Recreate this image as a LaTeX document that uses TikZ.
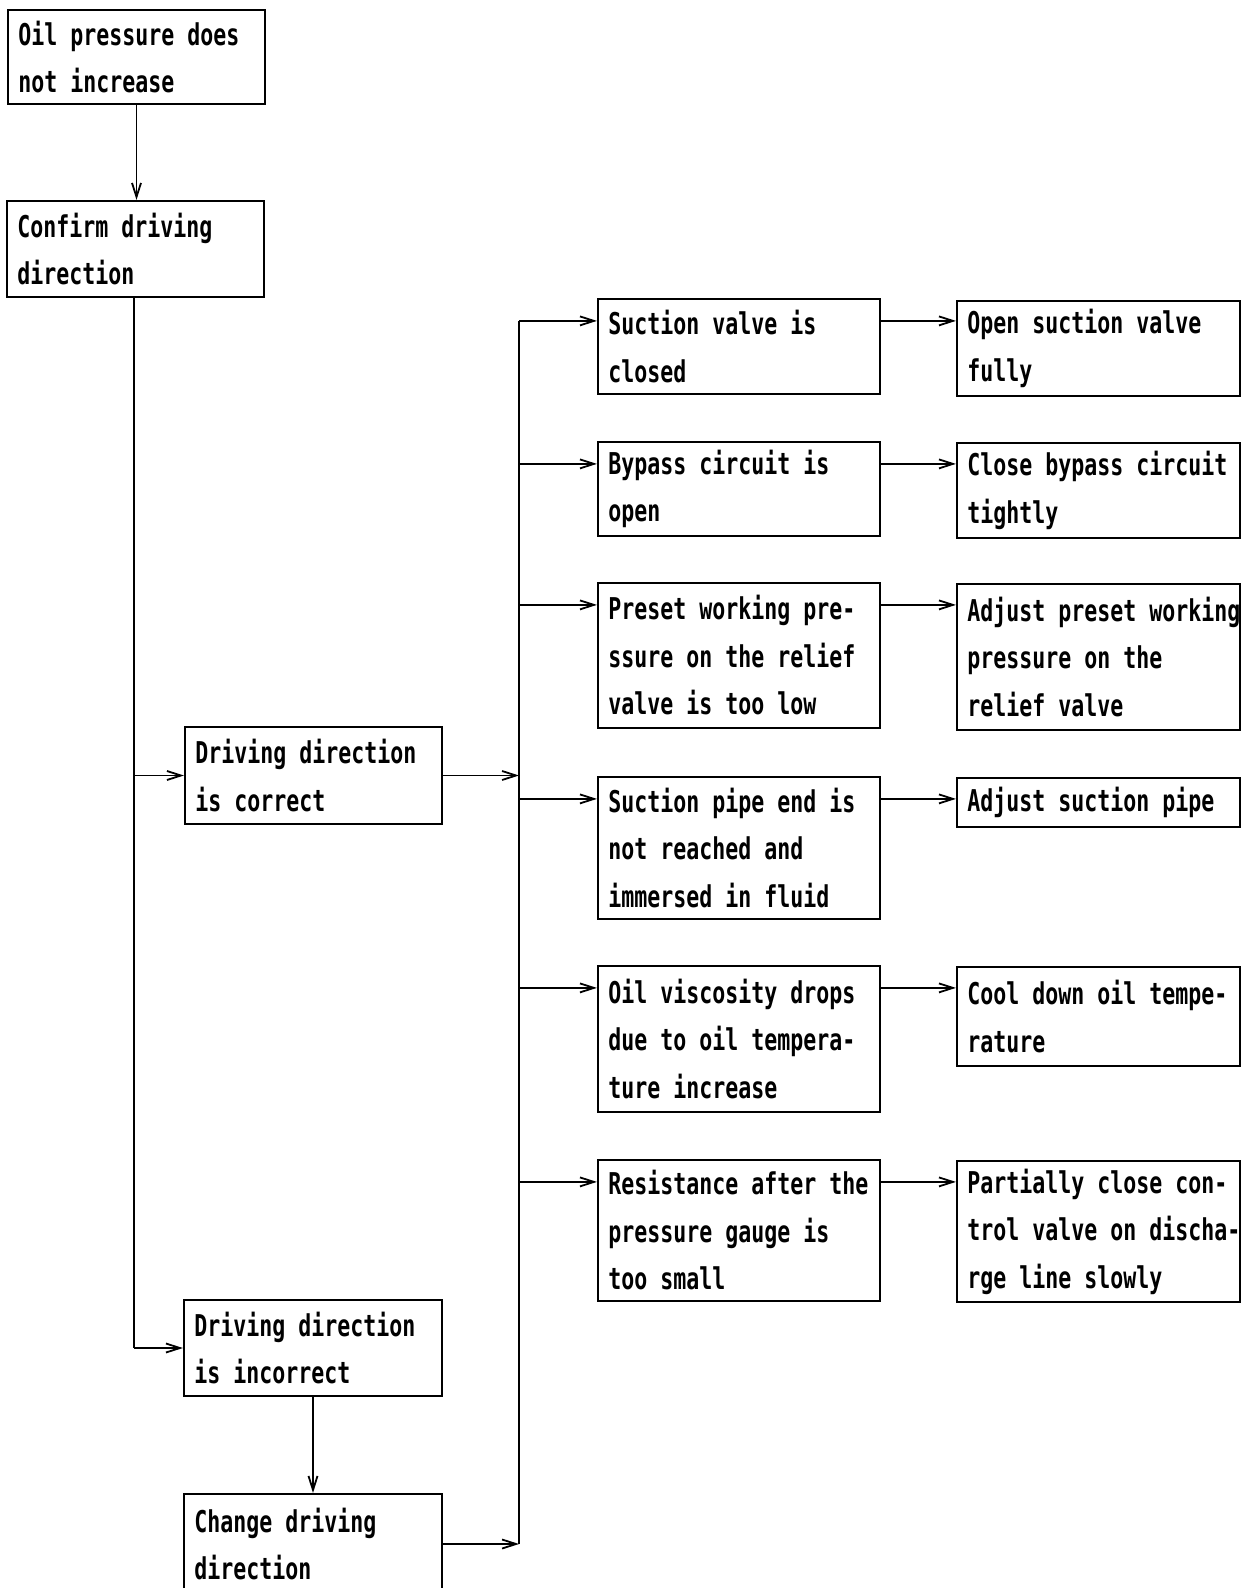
\documentclass[tikz,border=0pt]{standalone}
\usepackage{fontspec}
\usetikzlibrary{arrows.meta}
\newfontfamily\boxfont{DejaVu Sans Mono}[FakeStretch=0.72, UprightFont=*-Bold]
\tikzset{
  box/.style={draw, line width=1.1pt, rectangle, inner sep=0pt},
  boxtext/.style={inner sep=0pt, align=left,
    font={\boxfont\fontsize{15pt}{23.75pt}\selectfont}},
  link/.style={line width=0.9pt},
  arrow/.style={link, -{Straight Barb[length=7pt,width=4.5pt,line width=0.9pt]}},
}
% box: name, left, top, right, bottom (in px), text
\newcommand\flowbox[6]{%
  \node[box, minimum width={(#4-#2)*0.5pt}, minimum height={(#5-#3)*0.5pt}]
    (#1) at ({(#2+#4)/2},{(#3+#5)/2}) {};
  \node[boxtext, anchor=west] (#1-text) at ([xshift=5.5pt]#1.west) {#6};}
\begin{document}
\begin{tikzpicture}[x=0.5pt, y=-0.5pt]
\useasboundingbox[fill=white] (0,0) rectangle (1253,1588);

% left column
\flowbox{oil}{8}{10}{265}{104}{Oil pressure does\\not increase}
\flowbox{conf}{7}{201}{264}{297}{Confirm driving\\direction}
\flowbox{cor}{185}{727}{442}{824}{Driving direction\\is correct}
\flowbox{inc}{184}{1300}{442}{1396}{Driving direction\\is incorrect}
\flowbox{chg}{184}{1494}{442}{1594}{Change driving\\direction}

% causes
\flowbox{m1}{598}{299}{880}{394}{Suction valve is\\closed}
\flowbox{m2}{598}{442}{880}{536}{Bypass circuit is\\open}
\flowbox{m3}{598}{583}{880}{728}{Preset working pre-\\ssure on the relief\\valve is too low}
\flowbox{m4}{598}{777}{880}{919}{Suction pipe end is\\not reached and\\immersed in fluid}
\flowbox{m5}{598}{966}{880}{1112}{Oil viscosity drops\\due to oil tempera-\\ture increase}
\flowbox{m6}{598}{1160}{880}{1301}{Resistance after the\\pressure gauge is\\too small}

% remedies
\flowbox{r1}{957}{301}{1240}{396}{Open suction valve\\fully}
\flowbox{r2}{957}{443}{1240}{538}{Close bypass circuit\\tightly}
\flowbox{r3}{957}{584}{1240}{730}{Adjust preset working\\pressure on the\\relief valve}
\flowbox{r4}{957}{778}{1240}{827}{Adjust suction pipe}
\flowbox{r5}{957}{967}{1240}{1066}{Cool down oil tempe-\\rature}
\flowbox{r6}{957}{1161}{1240}{1302}{Partially close con-\\trol valve on discha-\\rge line slowly}

% left trunk
\draw[arrow] (oil.south) -- (oil.south |- conf.north);
\coordinate (ltrunk) at (134,297);
\draw[link] (ltrunk) -- (ltrunk |- inc.west);
\draw[arrow] (ltrunk |- cor.west) -- (cor.west);
\draw[arrow] (ltrunk |- inc.west) -- (inc.west);
\draw[arrow] (inc.south) -- (inc.south |- chg.north);

% right bus
\coordinate (bus) at (519,0);
\foreach \m in {m1,m2,m3,m4,m5,m6}{
  \coordinate (\m-in) at ([yshift=-11.5pt]\m.north west);
}
\draw[link] (bus |- m1-in) -- (bus |- chg.east);
\draw[arrow] (cor.east) -- (bus |- cor.east);
\draw[arrow] (chg.east) -- (bus |- chg.east);
\foreach \m/\r in {m1/r1,m2/r2,m3/r3,m4/r4,m5/r5,m6/r6}{
  \draw[arrow] (bus |- \m-in) -- (\m-in);
  \draw[arrow] (\m.east |- \m-in) -- (\r.west |- \m-in);
}
\end{tikzpicture}
\end{document}
